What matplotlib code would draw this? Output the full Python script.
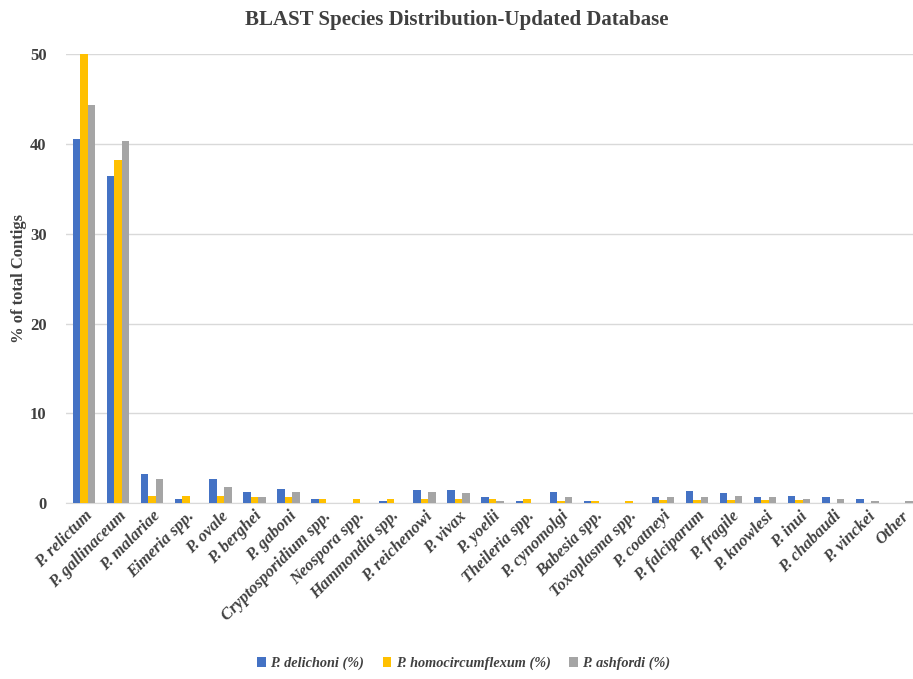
import matplotlib.pyplot as plt
import numpy as np

plt.rcParams['font.family'] = ['Liberation Serif', 'DejaVu Serif']

species = ['P. relictum', 'P. gallinaceum', 'P. malariae', 'Eimeria spp.', 'P. ovale',
           'P. berghei', 'P. gaboni', 'Cryptosporidium spp.', 'Neospora spp.',
           'Hammondia spp.', 'P. reichenowi', 'P. vivax', 'P. yoelii', 'Theileria spp.',
           'P. cynomolgi', 'Babesia spp.', 'Toxoplasma spp.', 'P. coatneyi',
           'P. falciparum', 'P. fragile', 'P. knowlesi', 'P. inui', 'P. chabaudi',
           'P. vinckei', 'Other']
delichoni = [40.6, 36.5, 3.27, 0.45, 2.64, 1.26, 1.63, 0.45, 0.0, 0.26, 1.45, 1.45, 0.67,
             0.26, 1.26, 0.26, 0.0, 0.67, 1.3, 1.08, 0.67, 0.85, 0.67, 0.45, 0.0]
homocircumflexum = [50.2, 38.2, 0.85, 0.85, 0.85, 0.67, 0.67, 0.45, 0.45, 0.45, 0.45, 0.45,
                    0.45, 0.45, 0.26, 0.26, 0.26, 0.3, 0.3, 0.3, 0.3, 0.3, 0.0, 0.0, 0.0]
ashfordi = [44.4, 40.3, 2.64, 0.0, 1.82, 0.67, 1.26, 0.0, 0.0, 0.0, 1.26, 1.08, 0.26,
            0.0, 0.67, 0.0, 0.0, 0.67, 0.67, 0.85, 0.67, 0.45, 0.45, 0.26, 0.26]

fig = plt.figure(figsize=(9.13, 6.79), dpi=100)
ax = fig.add_axes([0.0723, 0.259, 0.928, 0.661])

x = np.arange(len(species))
w = 0.22
ax.bar(x - w, delichoni, w, color='#4472C4', label='P. delichoni (%)', zorder=3)
ax.bar(x, homocircumflexum, w, color='#FFC000', label='P. homocircumflexum (%)', zorder=3)
ax.bar(x + w, ashfordi, w, color='#A5A5A5', label='P. ashfordi (%)', zorder=3)

ax.set_xlim(-0.53, 24.35)
ax.set_ylim(0, 50)
ax.set_yticks([0, 10, 20, 30, 40, 50])
ax.yaxis.grid(True, color='#D9D9D9', linewidth=1, zorder=0)
for s in ['top', 'right', 'left']:
    ax.spines[s].set_visible(False)
ax.spines['bottom'].set_color('#D9D9D9')
ax.tick_params(axis='both', length=0)
ax.tick_params(axis='y', labelsize=12, pad=14, labelcolor='#404040')

ax.set_xticks(x)
ax.set_xticklabels(species, rotation=45, ha='right', rotation_mode='anchor',
                   fontsize=12, fontweight='bold', fontstyle='italic', color='#404040')
for t in ax.get_yticklabels():
    t.set_fontweight('bold')

ax.set_ylabel('% of total Contigs', fontsize=12, fontweight='bold', labelpad=2,
              color='#404040')
fig.suptitle('BLAST Species Distribution-Updated Database', fontsize=15,
             fontweight='bold', color='#404040', y=0.985)

leg = fig.legend(loc='lower center', bbox_to_anchor=(0.508, -0.006), ncol=3, frameon=False,
                 handlelength=0.6, handleheight=0.6, handletextpad=0.3, columnspacing=1.3,
                 prop={'size': 10.3, 'weight': 'bold', 'style': 'italic'})
for t in leg.get_texts():
    t.set_color('#404040')

fig.savefig('out.png', dpi=100)
